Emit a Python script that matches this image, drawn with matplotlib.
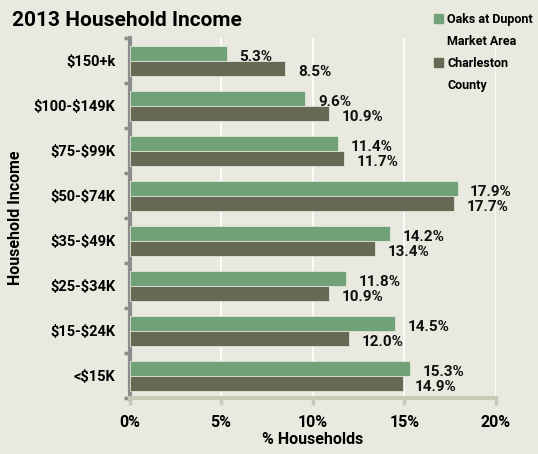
import matplotlib.pyplot as plt
from matplotlib.patches import Patch
import numpy as np

categories = ['\\$150+k', '\\$100-\\$149K', '\\$75-\\$99K', '\\$50-\\$74K', '\\$35-\\$49K',
              '\\$25-\\$34K', '\\$15-\\$24K', '<\\$15K']
oaks = [5.3, 9.6, 11.4, 17.9, 14.2, 11.8, 14.5, 15.3]
charleston = [8.5, 10.9, 11.7, 17.7, 13.4, 10.9, 12.0, 14.9]
xticks = [0, 5, 10, 15, 20]
legend_lines = [['Oaks at Dupont', 'Market Area'], ['Charleston', 'County']]

bg = '#EAE9DF'
green = '#6FA377'
dark = '#666A54'
plt.rcParams['font.family'] = ['Roboto', 'DejaVu Sans']
plt.rcParams['font.weight'] = 'bold'

fig = plt.figure(figsize=(5.38, 4.54), dpi=100, facecolor=bg)
ax = fig.add_axes([129.5 / 538, 1 - 398 / 454, (496 - 129.5) / 538, 360 / 454])
ax.set_facecolor(bg)

y = np.arange(len(categories))
h = 1 / 3
ax.barh(y - h / 2, oaks, height=h, color=green, edgecolor='#E0E6D8', linewidth=0.6, zorder=3)
ax.barh(y + h / 2, charleston, height=h, color=dark, edgecolor='#E0E6D8', linewidth=0.6, zorder=3)

for i in range(len(categories)):
    ax.annotate(f'{oaks[i]:.1f}%', (oaks[i], y[i] - h / 2), xytext=(9, -3),
                textcoords='offset points', va='center', ha='left', fontsize=11,
                fontweight='bold', color='#111111')
    ax.annotate(f'{charleston[i]:.1f}%', (charleston[i], y[i] + h / 2), xytext=(9, -3),
                textcoords='offset points', va='center', ha='left', fontsize=11,
                fontweight='bold', color='#111111')

ax.set_xlim(0, 20)
ax.set_ylim(len(categories) - 0.5, -0.5)
ax.set_xticks(xticks)
ax.set_xticklabels([f'{v}%' for v in xticks], fontsize=11.5, fontweight='bold')
ax.set_yticks(y)
ax.set_yticklabels(categories, fontsize=10.5, fontweight='bold')
ax.set_yticks(np.arange(len(categories) + 1) - 0.5, minor=True)
ax.tick_params(axis='y', which='major', length=0, pad=10)
ax.tick_params(axis='y', which='minor', length=4, width=2.5, color='#8C8C8C')
ax.tick_params(axis='x', length=5, width=2.5, color='#C8CAB8', pad=7)

ax.grid(axis='x', color='white', linewidth=1.2, zorder=0)
for s in ['top', 'right']:
    ax.spines[s].set_visible(False)
ax.spines['left'].set_color('#8C8C8C')
ax.spines['left'].set_linewidth(3)
ax.spines['bottom'].set_color('#C8CAB8')
ax.spines['bottom'].set_linewidth(3)

ax.set_xlabel('% Households', fontsize=11.5, fontweight='bold')
ax.set_ylabel('Household Income', fontsize=11.5, fontweight='bold')
ax.xaxis.set_label_coords(0.5, -34 / 360, transform=ax.transAxes)
ax.yaxis.set_label_coords(-106 / 366.5, 0.5, transform=ax.transAxes)

fig.text(12 / 538, 1 - 20 / 454, '2013 Household Income', fontsize=15, fontweight='bold',
         va='center', ha='left')

# legend: square only next to the first line of each entry
handles, labels = [], []
for color, lines in zip([green, dark], legend_lines):
    handles += [Patch(color=color), Patch(color='none')]
    labels += lines
fig.legend(handles, labels, loc='upper left', bbox_to_anchor=(434 / 538, 1 - 13 / 454),
           frameon=False, prop={'weight': 'bold', 'size': 9}, handlelength=0.75,
           handleheight=0.75, handletextpad=0.3, labelspacing=0.72, borderaxespad=0,
           borderpad=0)

fig.savefig('out.png', dpi=100, facecolor=bg)
